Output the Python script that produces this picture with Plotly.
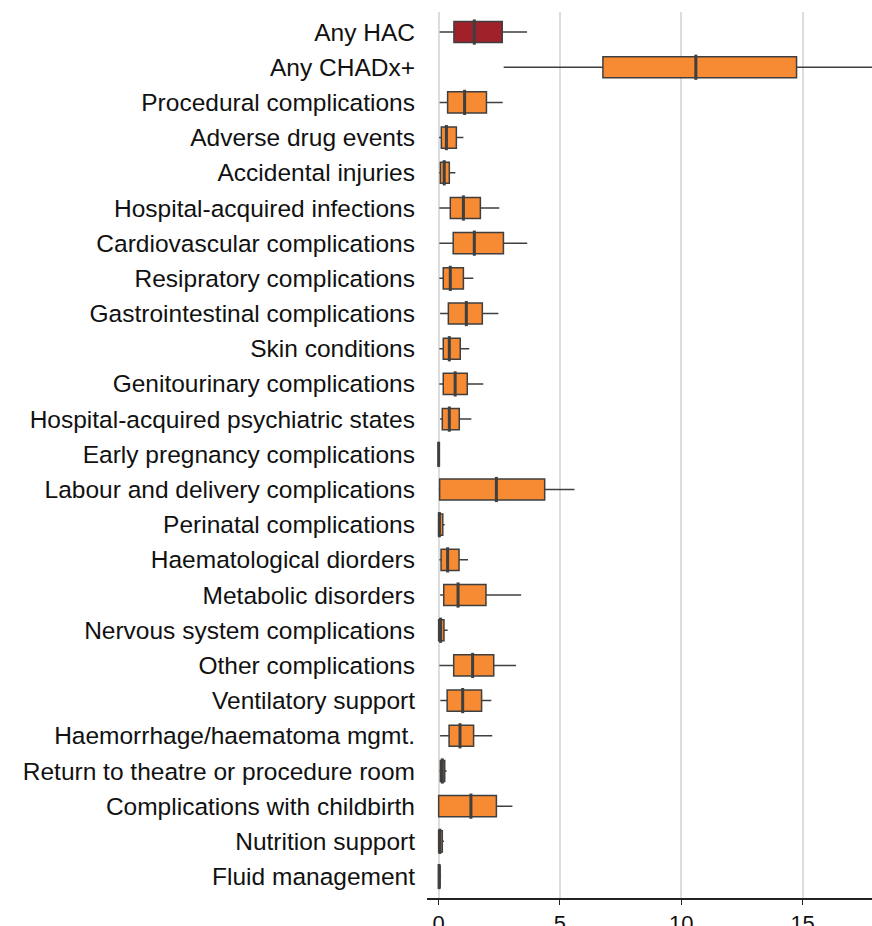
import plotly.graph_objects as go

# =========================================
# Data (box statistics)
# =========================================

categories = [
    "Any HAC",
    "Any CHADx+",
    "Procedural complications",
    "Adverse drug events",
    "Accidental injuries",
    "Hospital-acquired infections",
    "Cardiovascular complications",
    "Resipratory complications",
    "Gastrointestinal complications",
    "Skin conditions",
    "Genitourinary complications",
    "Hospital-acquired psychiatric states",
    "Early pregnancy complications",
    "Labour and delivery complications",
    "Perinatal complications",
    "Haematological diorders",
    "Metabolic disorders",
    "Nervous system complications",
    "Other complications",
    "Ventilatory support",
    "Haemorrhage/haematoma mgmt.",
    "Return to theatre or procedure room",
    "Complications with childbirth",
    "Nutrition support",
    "Fluid management",
]

lower = [0.04, 2.68, 0.04, 0.02, 0.02, 0.03, 0.03, 0.03, 0.06, 0.03, 0.03, 0.06, 0.0,
         0.0, 0.0, 0.03, 0.06, 0.0, 0.03, 0.07, 0.06, 0.03, 0.0, 0.0, 0.0]
q1 = [0.63, 6.77, 0.37, 0.11, 0.07, 0.48, 0.60, 0.19, 0.40, 0.19, 0.19, 0.15, 0.0,
      0.04, 0.0, 0.10, 0.21, 0.0, 0.62, 0.35, 0.43, 0.07, 0.0, 0.0, 0.0]
median = [1.47, 10.60, 1.07, 0.32, 0.23, 1.02, 1.47, 0.48, 1.14, 0.44, 0.68, 0.44, 0.0,
          2.38, 0.03, 0.37, 0.80, 0.08, 1.40, 0.99, 0.88, 0.15, 1.33, 0.05, 0.02]
q3 = [2.62, 14.75, 1.97, 0.73, 0.44, 1.72, 2.67, 1.02, 1.80, 0.89, 1.18, 0.85, 0.02,
      4.37, 0.17, 0.84, 1.95, 0.22, 2.27, 1.77, 1.44, 0.25, 2.38, 0.15, 0.06]
upper = [3.64, 19.50, 2.64, 1.02, 0.69, 2.50, 3.65, 1.43, 2.46, 1.26, 1.84, 1.35, 0.05,
         5.60, 0.25, 1.21, 3.40, 0.37, 3.19, 2.17, 2.21, 0.33, 3.04, 0.22, 0.10]

x_ticks = [0, 5, 10, 15]

RED = "#A0212A"
ORANGE = "#F68B33"
EDGE = "#3F3F3F"

fig = go.Figure()


# =========================================
# Boxes
# =========================================

def add_boxes(idx, color):
    fig.add_trace(
        go.Box(
            y=[categories[i] for i in idx],
            q1=[q1[i] for i in idx],
            median=[median[i] for i in idx],
            q3=[q3[i] for i in idx],
            lowerfence=[lower[i] for i in idx],
            upperfence=[upper[i] for i in idx],
            orientation="h",
            fillcolor=color,
            line=dict(color=EDGE, width=1.5),
            width=0.6,
            whiskerwidth=0,
            boxpoints=False,
            showlegend=False,
            hoverinfo="skip",
        )
    )


add_boxes([0], RED)
add_boxes(list(range(1, len(categories))), ORANGE)

# thicker median ticks
fig.add_trace(
    go.Scatter(
        x=median,
        y=categories,
        mode="markers",
        marker=dict(symbol="line-ns", size=18, line=dict(color=EDGE, width=3)),
        showlegend=False,
        hoverinfo="skip",
    )
)


# =========================================
# Layout
# =========================================

fig.update_layout(
    width=872,
    height=926,
    margin=dict(l=427, r=0, t=12, b=28),
    paper_bgcolor="white",
    plot_bgcolor="white",
    boxmode="overlay",
    font=dict(family="Liberation Sans, Arial, sans-serif", size=20, color="#111111"),
    xaxis=dict(
        range=[-0.48, 17.86],
        tickvals=x_ticks,
        showgrid=True,
        gridcolor="#DDDDDD",
        gridwidth=1.5,
        zeroline=False,
        showline=True,
        linecolor="#222222",
        linewidth=1.5,
        ticks="outside",
        ticklen=5,
        tickcolor="#222222",
        tickfont=dict(size=22),
        automargin=False,
    ),
    yaxis=dict(
        categoryorder="array",
        categoryarray=categories,
        range=[24.61, -0.57],
        showgrid=False,
        zeroline=False,
        showline=False,
        ticks="",
        ticklabelstandoff=11,
        tickfont=dict(size=24.5),
        automargin=False,
    ),
)

fig.write_html(
    "out.html",
    config={"displayModeBar": False},
    post_script="document.body.style.margin='0';",
)
